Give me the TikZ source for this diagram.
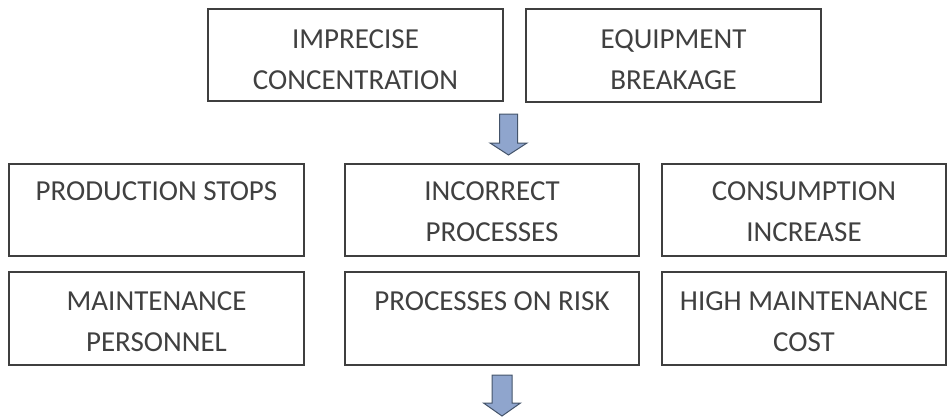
\documentclass[tikz,border=0pt]{standalone}
\usepackage{fontspec}
\setmainfont{Carlito}
\usetikzlibrary{calc}
\definecolor{boxline}{HTML}{3F3F3F}
\definecolor{txtcol}{HTML}{404040}
\definecolor{arrfill}{HTML}{8FA5CD}
\definecolor{arrline}{HTML}{44546A}
\tikzset{
  box/.style={draw=boxline, line width=2.2pt, rectangle, inner sep=0pt},
  txt/.style={text=txtcol, font=\fontsize{29}{41}\selectfont, inner sep=0pt, anchor=base},
  blockarrow/.style={fill=arrfill, draw=arrline, line width=1pt, line join=miter}
}
\newcommand{\boxat}[6]{% name, x1, y1, x2, y2
  \node[box, minimum width={(#4-#2)*1pt}, minimum height={(#5-#3)*1pt}] (#1) at ({(#2+#4)/2},{(#3+#5)/2}) {};
}
\begin{document}
\begin{tikzpicture}[x=1pt,y=-1pt]
\useasboundingbox (0,0) rectangle (947,416);
% top row
\node[box, minimum width=295pt, minimum height=92pt] (imp) at (355.5,55) {};
\node[box, minimum width=295pt, minimum height=93pt] (equ) at (673.5,55.5) {};
% second row
\node[box, minimum width=295pt, minimum height=92pt] (prod) at (156.5,210) {};
\node[box, minimum width=294pt, minimum height=92pt] (inc) at (492,210) {};
\node[box, minimum width=284pt, minimum height=92pt] (cons) at (804,210) {};
% third row
\node[box, minimum width=295pt, minimum height=93pt] (mant) at (156.5,318.5) {};
\node[box, minimum width=294pt, minimum height=93pt] (risk) at (492,318.5) {};
\node[box, minimum width=284pt, minimum height=93pt] (high) at (804,318.5) {};
% texts
\node[txt] (t1a) at ($(imp.north)+(0,41)$) {IMPRECISE};
\node[txt] (t1b) at ($(imp.north)+(0,82)$) {CONCENTRATION};
\node[txt] (t2a) at ($(equ.north)+(0,41)$) {EQUIPMENT};
\node[txt] (t2b) at ($(equ.north)+(0,82)$) {BREAKAGE};
\node[txt] (t3a) at ($(prod.north)+(0,38)$) {PRODUCTION STOPS};
\node[txt] (t4a) at ($(inc.north)+(0,38)$) {INCORRECT};
\node[txt] (t4b) at ($(inc.north)+(0,79)$) {PROCESSES};
\node[txt] (t5a) at ($(cons.north)+(0,38)$) {CONSUMPTION};
\node[txt] (t5b) at ($(cons.north)+(0,79)$) {INCREASE};
\node[txt] (t6a) at ($(mant.north)+(0,40)$) {MAINTENANCE};
\node[txt] (t6b) at ($(mant.north)+(0,81)$) {PERSONNEL};
\node[txt] (t7a) at ($(risk.north)+(0,40)$) {PROCESSES ON RISK};
\node[txt] (t8a) at ($(high.north)+(0,40)$) {HIGH MAINTENANCE};
\node[txt] (t8b) at ($(high.north)+(0,81)$) {COST};
% block arrows
\coordinate (a1) at (508.5,114);
\draw[blockarrow] ($(a1)+(-9,0)$) -- ($(a1)+(9,0)$) -- ($(a1)+(9,29)$) -- ($(a1)+(18.5,29)$)
  -- ($(a1)+(0,41)$) -- ($(a1)+(-18.5,29)$) -- ($(a1)+(-9,29)$) -- cycle;
\coordinate (a2) at (502,375);
\draw[blockarrow] ($(a2)+(-10,0)$) -- ($(a2)+(10,0)$) -- ($(a2)+(10,28)$) -- ($(a2)+(18.5,28)$)
  -- ($(a2)+(0,41)$) -- ($(a2)+(-18.5,28)$) -- ($(a2)+(-10,28)$) -- cycle;
\end{tikzpicture}
\end{document}
